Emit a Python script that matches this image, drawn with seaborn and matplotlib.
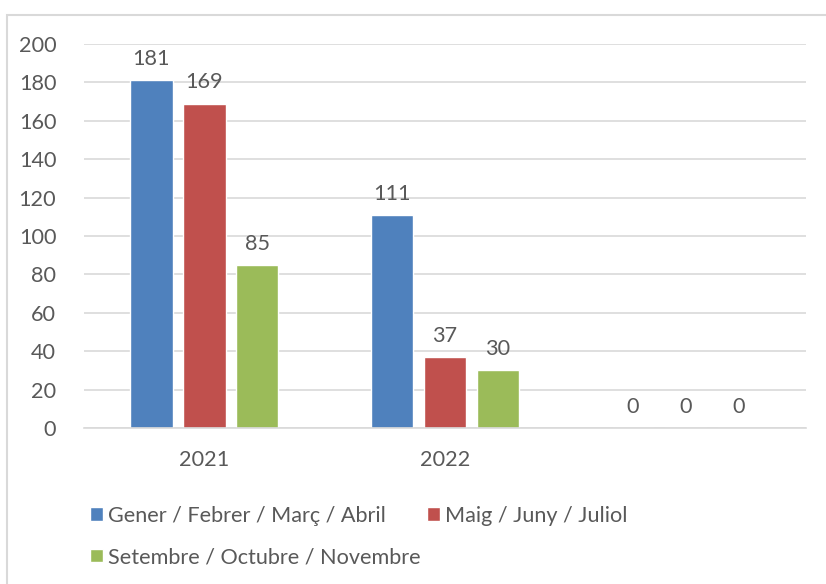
import pandas as pd
import numpy as np
import matplotlib.pyplot as plt
import seaborn as sns
from matplotlib.patches import Rectangle

years = ["2021", "2022", " "]
series = ["Gener / Febrer / Març / Abril",
          "Maig / Juny / Juliol",
          "Setembre / Octubre / Novembre"]
gener_abril = [181, 111, 0]
maig_juliol = [169, 37, 0]
setembre_novembre = [85, 30, 0]
colors = ["#4F81BD", "#C0504D", "#9BBB59"]

df = pd.DataFrame({
    "year": years * 3,
    "period": [series[0]] * 3 + [series[1]] * 3 + [series[2]] * 3,
    "value": gener_abril + maig_juliol + setembre_novembre,
})

sns.set_style("white")
plt.rcParams["font.family"] = ["Lato", "DejaVu Sans"]
text_color = "#595959"
grid_color = "#D9D9D9"
fs = 15.6

fig = plt.figure(figsize=(8.26, 5.84), dpi=100)
ax = fig.add_axes([84 / 826, 1 - 428 / 584, 722 / 826, 384 / 584])

sns.barplot(data=df, x="year", y="value", hue="period", order=years,
            hue_order=series, palette=colors, width=0.66, gap=0.2,
            saturation=1, ax=ax, legend=True)

# value labels
for cont in ax.containers:
    ax.bar_label(cont, fmt="%d", padding=8, fontsize=fs, color=text_color)

ax.set_ylim(0, 200)
ax.set_yticks(range(0, 201, 20))
ax.set_xlim(-0.5, 2.5)
ax.set_xlabel("")
ax.set_ylabel("")
ax.yaxis.grid(True, color=grid_color, linewidth=1.2)
ax.set_axisbelow(True)
for s in ["top", "right", "left"]:
    ax.spines[s].set_visible(False)
ax.spines["bottom"].set_color(grid_color)
ax.spines["bottom"].set_linewidth(1.2)
ax.tick_params(axis="both", length=0, labelsize=fs, labelcolor=text_color)
ax.tick_params(axis="y", pad=20)
ax.tick_params(axis="x", pad=16)

# legend below, two per row
handles, labels = ax.get_legend_handles_labels()
ax.get_legend().remove()
order = [0, 2, 1]
fig.legend([handles[i] for i in order], [labels[i] for i in order],
           ncol=2, loc="upper left", bbox_to_anchor=(70 / 826, 1 - 486 / 584),
           frameon=False, fontsize=fs, labelcolor=text_color,
           handlelength=0.6, handleheight=0.6, handletextpad=0.25,
           columnspacing=0.3, labelspacing=1.0)

# chart border (cropped on right and bottom)
fig.patches.append(Rectangle((7 / 826, -0.1), 1.2, 1 - 15 / 584 + 0.1,
                             transform=fig.transFigure, fill=False,
                             edgecolor=grid_color, linewidth=1.5))

fig.savefig("out.png", dpi=100)
